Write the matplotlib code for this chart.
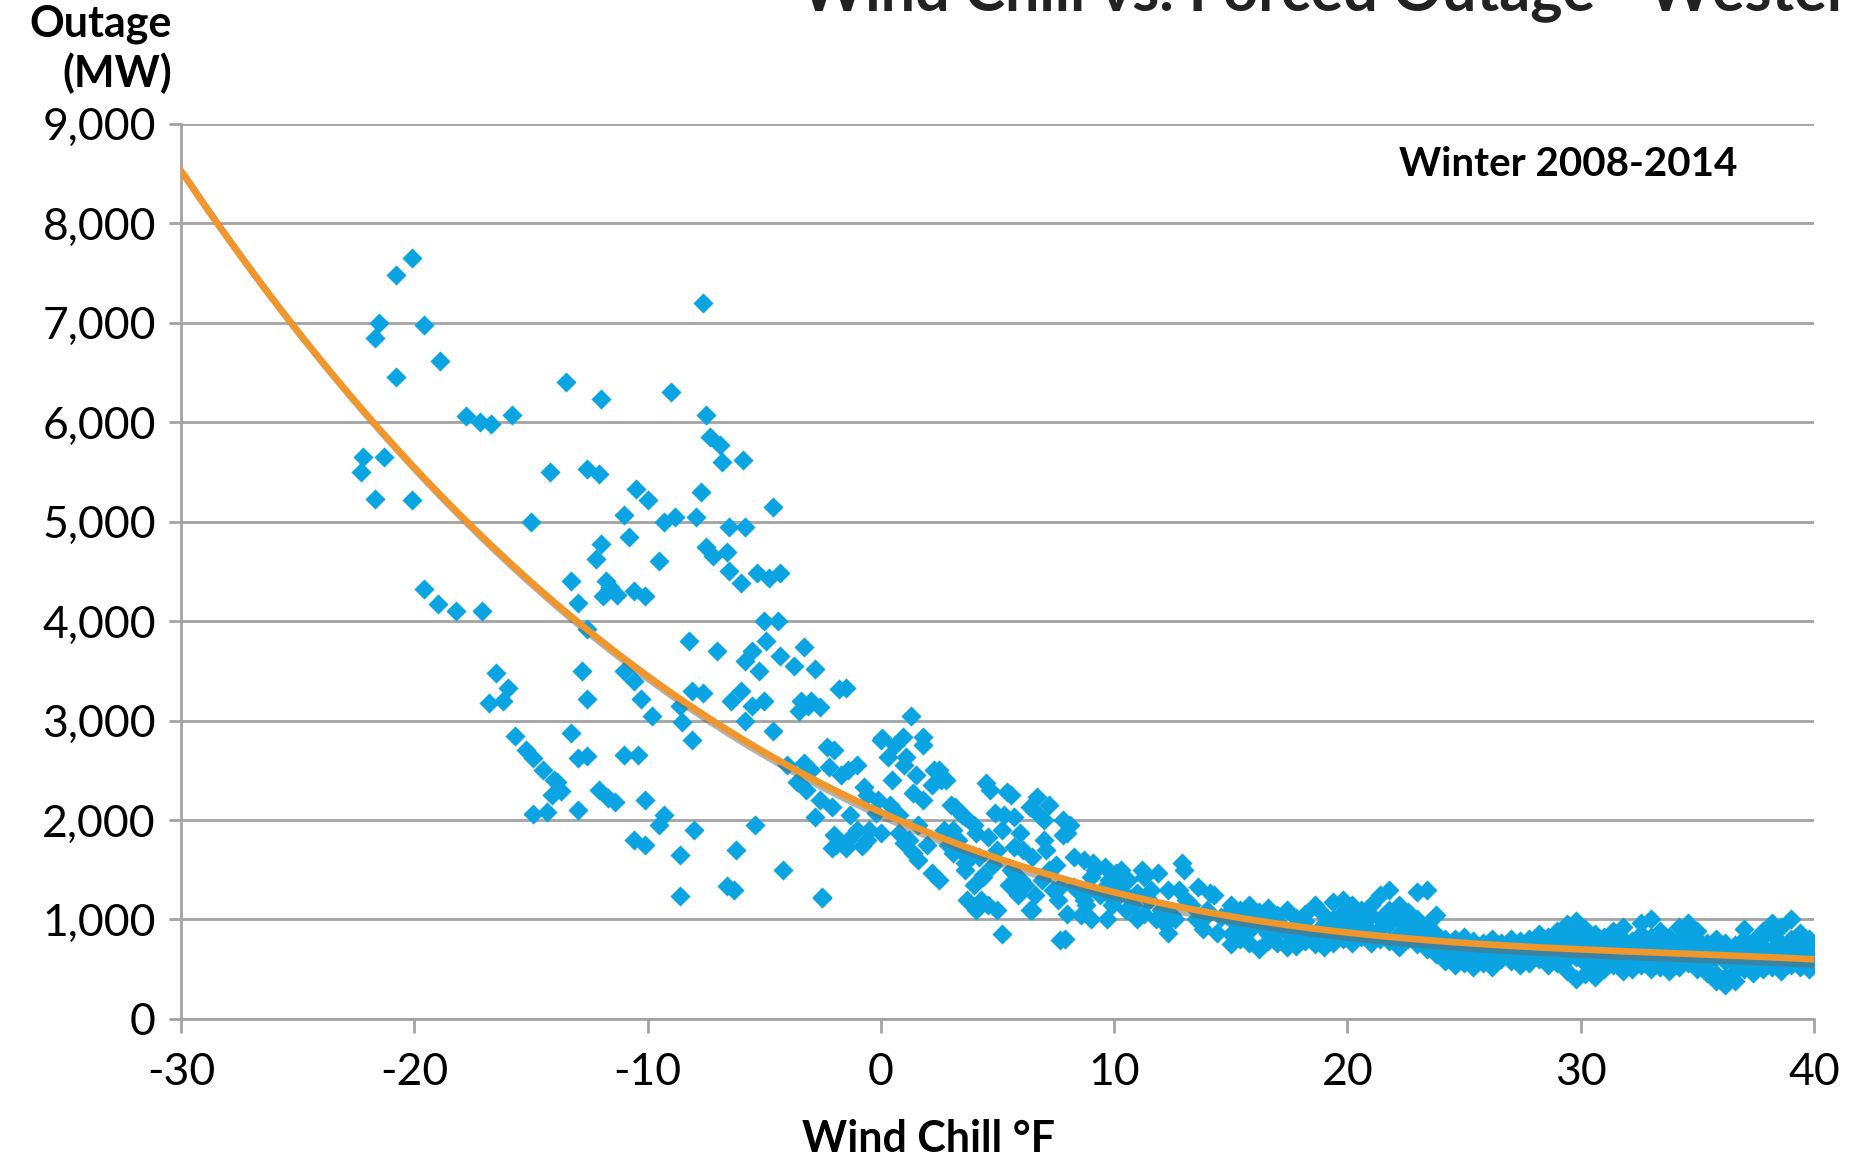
import numpy as np
import matplotlib
matplotlib.use("Agg")
from matplotlib import pyplot as plt
from matplotlib import patheffects as pe

# scatter, split by wind chill range
cold_x = [-20.1, -20.8, -21.5, -21.7, -20.8, -19.6, -18.9, -22.2, -22.3, -21.3, -21.7, -20.1,
          -19.6, -19.0, -17.8, -17.2, -16.7, -15.8, -18.2, -17.1, -16.5, -16.8, -16.0, -16.2,
          -15.7, -15.2, -14.9, -14.9, -14.3, -14.5, -13.9, -14.1, -13.7, -13.3, -13.0, -12.6,
          -13.0, -12.1, -11.7, -11.4, -15.0, -14.2, -13.5, -12.0, -13.3, -13.0, -12.8, -12.6,
          -12.6, -12.2, -12.0, -12.6, -12.1, -11.6, -11.9, -11.3, -11.8, -11.0, -10.8, -10.5,
          -10.0, -10.6, -10.1, -9.5, -9.3, -8.8, -9.0, -7.9, -11.0, -10.6, -10.3, -11.0,
          -10.4, -10.1, -9.3, -10.6, -10.1, -9.5, -8.6, -8.0, -8.6, -7.6, -7.5, -7.3,
          -6.9, -6.8, -7.7, -5.9, -4.6, -7.5, -7.2, -6.6, -6.5, -5.8, -6.5, -6.0,
          -5.3, -4.8, -4.3, -5.0, -4.4, -4.9, -4.3, -3.7, -3.4, -3.5, -3.1, -1.8,
          -5.5, -5.8, -5.2, -6.0, -6.4, -5.5, -5.0, -5.8, -4.6, -8.2, -8.1, -7.6,
          -8.6, -8.5, -8.1, -7.0, -6.2, -6.6, -6.3, -5.4, -4.2, -2.5, -4.0, -3.6,
          -3.0, -2.0, -3.2, -2.6, -1.7, -1.0, -2.0, -2.1, -1.4, -0.8, -0.5, -1.3,
          -0.6, -0.1, -3.3, -2.8, -1.5, -3.0, -2.6, -2.3, -3.3, -2.2, -1.4, -0.7,
          -2.8, -2.1, -0.2, -1.0, -1.9, -1.5, -0.6, -2.5, -9.8, -14.0]
cold_y = [7650, 7480, 7000, 6850, 6450, 6980, 6620, 5650, 5500, 5650, 5230, 5220,
          4320, 4170, 6060, 6000, 5980, 6070, 4100, 4100, 3480, 3180, 3330, 3200,
          2850, 2700, 2620, 2060, 2080, 2500, 2380, 2250, 2290, 2880, 2620, 2640,
          2100, 2300, 2220, 2180, 5000, 5500, 6400, 6230, 4400, 4180, 3500, 3220,
          3920, 4620, 4780, 5530, 5480, 4340, 4250, 4260, 4400, 5070, 4850, 5330,
          5220, 4300, 4250, 4600, 5000, 5050, 6300, 5050, 3500, 3400, 3220, 2650,
          2650, 2200, 2050, 1800, 1750, 1950, 1650, 1900, 1240, 7200, 6070, 5850,
          5770, 5600, 5300, 5620, 5150, 4750, 4650, 4700, 4950, 4950, 4500, 4380,
          4480, 4430, 4480, 4000, 4000, 3800, 3650, 3550, 3200, 3100, 3150, 3320,
          3700, 3600, 3500, 3300, 3200, 3150, 3200, 3000, 2900, 3800, 3300, 3280,
          3150, 2990, 2800, 3700, 1700, 1340, 1300, 1950, 1500, 1220, 2550, 2380,
          2500, 2700, 2300, 2200, 2450, 2550, 1850, 1720, 1800, 1740, 1900, 2050,
          2250, 2200, 3740, 3520, 3330, 3200, 3140, 2735, 2570, 2535, 2500, 2330,
          2030, 2130, 2070, 1900, 1750, 1715, 1800, 1230, 3050, 2400]

mild_x = [0.0, 0.6, 1.3, 1.0, 0.5, 1.5, 1.8, 2.2, 2.5, 2.8, 3.0, 1.8,
          0.8, 1.2, 1.6, 2.0, 2.5, 3.5, 4.0, 3.3, 3.6, 4.0, 4.3, 4.6,
          4.7, 5.3, 5.6, 5.0, 5.6, 6.1, 5.2, 6.2, 6.5, 6.8, 7.2, 7.1,
          7.5, 7.8, 8.1, 7.9, 8.4, 8.8, 9.2, 9.8, 9.7, 0.05, 0.95, 1.8,
          0.3, 1.1, 2.3, 2.6, 1.4, 0.0, 0.8, 1.0, 1.4, 2.2, 3.2, 3.6,
          4.5, 5.4, 4.9, 4.1, 3.1, 3.1, 3.6, 4.2, 4.6, 5.2, 5.7, 6.7,
          6.4, 5.95, 7.0, 7.8, 8.0, 7.0, 5.7, 6.5, 5.7, 4.4, 3.7, 4.1,
          5.0, 6.4, 7.7, 7.2, 7.7, 8.3, 8.7, 9.1, 9.6, 9.0, 8.3, 8.7,
          8.0, 9.0, 9.6, 10.1, 10.6, 11.3, 11.9, 12.9, 12.3, 11.0, 10.0, 10.5,
          11.3, 11.8, 12.3, 12.6, 13.1, 13.6, 14.1, 13.9, 14.6, 14.4, 10.3, 10.5,
          11.2, 11.6, 12.0, 12.8, 13.0, 13.5, 14.3, 14.8, 9.4, 10.8, 11.5, 12.5,
          13.3, 14.0, 6.0, 7.4, 8.6, 9.9, 11.0, 12.2, 13.8, 2.9, 3.9, 4.8,
          5.9, 6.9, 0.4, 1.6, 2.7, 3.4, 4.4, 5.5, 6.6, 7.6, 8.9, 10.2]
mild_y = [2800, 2750, 3050, 2550, 2400, 2450, 2750, 2350, 2500, 2400, 2150, 2200,
          2050, 1800, 1600, 1750, 1400, 2050, 1950, 1800, 1500, 1350, 1200, 1150,
          2300, 2050, 2250, 1700, 1500, 1700, 850, 1350, 1100, 2050, 2150, 1700,
          1550, 1850, 1950, 800, 1300, 1150, 1500, 1400, 1000, 2820, 2835, 2835,
          2635, 2635, 2500, 2400, 2270, 1866, 1866, 1766, 1665, 1465, 2130, 2030,
          2370, 2280, 2070, 1866, 1900, 1665, 1565, 1630, 1830, 1900, 2030, 2230,
          2130, 1866, 2000, 2000, 1866, 1800, 1730, 1630, 1465, 1430, 1200, 1100,
          1100, 1100, 795, 1500, 1330, 1630, 1600, 1565, 1530, 1430, 1330, 1200,
          1060, 1000, 1330, 1465, 1400, 1430, 1465, 1565, 1300, 1265, 1200, 1100,
          1060, 1000, 860, 1000, 1200, 1330, 1265, 1030, 1030, 860, 1500, 1250,
          1500, 1300, 1100, 1300, 1500, 1000, 1250, 1050, 1250, 1150, 1200, 1050,
          1150, 1100, 1400, 1300, 1050, 1150, 1000, 950, 900, 1750, 1650, 1550,
          1250, 1400, 2150, 1950, 1900, 1700, 1450, 1350, 1250, 1200, 1300, 1350]

warm_x = [15.0, 15.0, 15.0, 15.0, 15.4, 15.4, 15.4, 15.8, 15.8, 15.8, 15.8,
          16.2, 16.2, 16.2, 16.6, 16.6, 16.6, 16.6, 17.0, 17.0, 17.0, 17.0,
          17.4, 17.4, 17.4, 17.8, 17.8, 17.8, 17.8, 18.2, 18.2, 18.2, 18.2,
          18.6, 18.6, 18.6, 19.0, 19.0, 19.0, 19.0, 19.4, 19.4, 19.4, 19.4,
          19.8, 19.8, 19.8, 19.8, 20.2, 20.2, 20.2, 20.2, 20.6, 20.6, 20.6, 20.6,
          21.0, 21.0, 21.0, 21.0, 21.4, 21.4, 21.4, 21.4, 21.8, 21.8, 21.8, 21.8,
          22.2, 22.2, 22.2, 22.2, 22.6, 22.6, 22.6, 22.6, 23.0, 23.0, 23.0, 23.0,
          23.4, 23.4, 23.4, 23.4, 23.8, 23.8, 23.8, 23.8, 24.2, 24.2, 24.2, 24.2,
          24.6, 24.6, 24.6, 24.6, 25.0, 25.0, 25.0, 25.0, 25.4, 25.4, 25.4, 25.4,
          25.8, 25.8, 25.8, 25.8, 26.2, 26.2, 26.2, 26.2, 26.6, 26.6, 26.6, 26.6,
          27.0, 27.0, 27.0, 27.0, 27.4, 27.4, 27.4, 27.4, 27.8, 27.8, 27.8, 27.8,
          28.2, 28.2, 28.2, 28.2, 28.6, 28.6, 28.6, 28.6, 29.0, 29.0, 29.0, 29.0,
          29.4, 29.4, 29.4, 29.4, 29.4, 29.8, 29.8, 29.8, 29.8, 29.8,
          30.2, 30.2, 30.2, 30.2, 30.2, 30.6, 30.6, 30.6, 30.6, 30.6,
          31.0, 31.0, 31.0, 31.0, 31.4, 31.4, 31.4, 31.4,
          31.8, 31.8, 31.8, 31.8, 31.8, 32.2, 32.2, 32.2, 32.2,
          32.6, 32.6, 32.6, 32.6, 32.6, 33.0, 33.0, 33.0, 33.0, 33.0,
          33.4, 33.4, 33.4, 33.4, 33.8, 33.8, 33.8, 33.8,
          34.2, 34.2, 34.2, 34.2, 34.2, 34.6, 34.6, 34.6, 34.6, 34.6,
          35.0, 35.0, 35.0, 35.0, 35.0, 35.4, 35.4, 35.4, 35.4,
          35.8, 35.8, 35.8, 35.8, 35.8, 36.2, 36.2, 36.2, 36.2, 36.2,
          36.6, 36.6, 36.6, 36.6, 36.6, 37.0, 37.0, 37.0, 37.0, 37.0,
          37.4, 37.4, 37.4, 37.4, 37.8, 37.8, 37.8, 37.8, 37.8,
          38.2, 38.2, 38.2, 38.2, 38.2, 38.6, 38.6, 38.6, 38.6, 38.6,
          39.0, 39.0, 39.0, 39.0, 39.0, 39.4, 39.4, 39.4, 39.4, 39.4,
          39.8, 39.8, 39.8, 39.8, 39.8]
warm_y = [1000, 850, 1150, 750, 950, 1100, 800, 880, 1000, 760, 1150,
          950, 700, 1080, 1000, 850, 1120, 780, 900, 1050, 760, 980,
          860, 1100, 720, 950, 800, 1020, 730, 900, 1060, 780, 980,
          850, 1150, 750, 950, 1050, 820, 720, 1000, 880, 1180, 760,
          920, 1080, 800, 1200, 1000, 850, 1150, 760, 950, 1100, 820, 1000,
          1050, 880, 760, 1150, 1000, 900, 1250, 800, 1100, 950, 780, 1300,
          1000, 850, 1150, 720, 950, 1080, 800, 900, 1000, 880, 1280, 750,
          950, 820, 1300, 700, 850, 750, 1050, 650, 800, 680, 580, 750,
          700, 620, 800, 540, 750, 650, 560, 820, 700, 620, 780, 520,
          680, 600, 760, 560, 720, 640, 800, 520, 700, 600, 760, 650,
          740, 660, 580, 800, 700, 620, 780, 540, 720, 650, 560, 800,
          760, 680, 600, 850, 700, 620, 820, 540, 750, 650, 880, 560,
          800, 700, 600, 950, 480, 720, 620, 850, 400, 980,
          680, 560, 780, 450, 900, 750, 650, 540, 850, 420,
          700, 600, 820, 500, 760, 640, 880, 540,
          700, 600, 800, 480, 920, 680, 580, 780, 500,
          740, 620, 850, 540, 960, 700, 600, 820, 1000, 500,
          760, 640, 880, 520, 700, 580, 820, 480,
          680, 600, 780, 920, 520, 720, 640, 850, 960, 560,
          700, 600, 800, 500, 880, 660, 560, 760, 460,
          700, 620, 800, 450, 380, 680, 580, 760, 420, 340,
          650, 560, 740, 480, 380, 700, 600, 800, 500, 900,
          680, 580, 780, 460, 720, 620, 820, 500, 880,
          700, 600, 850, 520, 960, 680, 580, 760, 480, 920,
          720, 620, 800, 540, 1000, 700, 600, 780, 520, 860,
          680, 580, 760, 500, 800]

# trend line, read where it crosses the gridlines
trend_x = [-30, -28.6, -25.2, -21.6, -17.5, -13.4, -7.4, 0.7, 10, 16.6, 25, 30, 35, 40]
trend_y = [8540, 8000, 7000, 6000, 5000, 4000, 3000, 2000, 1300, 1000, 760, 680, 630, 620]

x_ticks = [-30, -20, -10, 0, 10, 20, 30, 40]
y_ticks = list(range(0, 9001, 1000))

blue = '#0aa4e3'
orange = '#f0962a'
grid_gray = '#a3a3a3'
plt.rcParams['font.family'] = ['Lato', 'DejaVu Sans']
plt.rcParams['axes.unicode_minus'] = False

fig = plt.figure(figsize=(18.5, 11.6), dpi=100)
ax = fig.add_axes([0.0978, 0.1216, 0.8827, 0.7716])

xs = np.array(cold_x + mild_x + warm_x)
ys = np.array(cold_y + mild_y + warm_y)
ax.scatter(xs, ys, marker='D', s=105, color=blue, linewidths=0, zorder=3)

coef = np.polyfit(trend_x, trend_y, 4)
tx = np.linspace(-30, 40, 300)
ax.plot(tx, np.polyval(coef, tx), color=orange, lw=4.8, zorder=4,
        path_effects=[pe.SimpleLineShadow(offset=(3, -4), shadow_color='#666666', alpha=0.5),
                      pe.Normal()])

ax.set_xlim(-30, 40)
ax.set_ylim(0, 9000)
ax.set_xticks(x_ticks)
ax.set_yticks(y_ticks)
ax.set_yticklabels([f'{v:,}' for v in y_ticks])
ax.grid(axis='y', color=grid_gray, lw=2)
ax.set_axisbelow(True)
for s in ['top', 'right']:
    ax.spines[s].set_visible(False)
for s in ['left', 'bottom']:
    ax.spines[s].set_color(grid_gray)
    ax.spines[s].set_linewidth(2)
ax.tick_params(axis='y', length=9, width=2, color=grid_gray, pad=9, labelsize=32)
ax.tick_params(axis='x', length=10, width=2, color=grid_gray, pad=14, labelsize=32)

ax.text(0.953, 0.955, 'Winter 2008-2014', transform=ax.transAxes, ha='right', va='center',
        fontsize=29, fontweight='bold')
fig.text(0.502, 0.018, 'Wind Chill \u00b0F', ha='center', va='center', fontsize=31, fontweight='bold')
fig.text(0.093, 0.979, 'Outage', ha='right', va='center', fontsize=31, fontweight='bold')
fig.text(0.093, 0.937, '(MW)', ha='right', va='center', fontsize=31, fontweight='bold')
fig.text(0.433, 0.991, 'Wind Chill vs. Forced Outage - Western', ha='left', va='baseline',
         fontsize=44, fontweight='bold', color='#222222')

fig.savefig('out.png', dpi=100)
